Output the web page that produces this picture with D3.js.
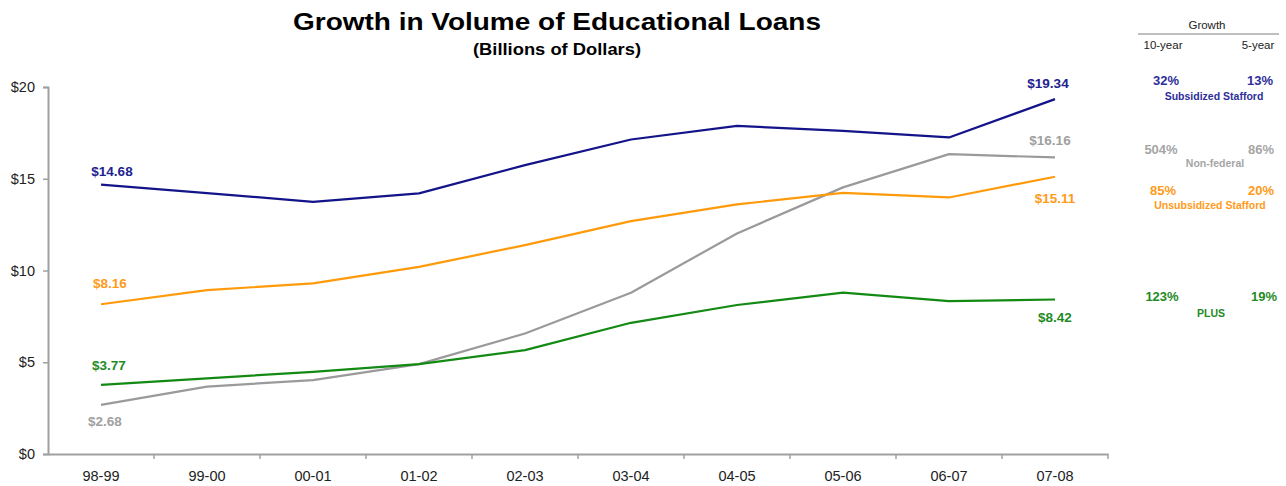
<!DOCTYPE html>
<html>
<head>
<meta charset="utf-8">
<script src="https://cdn.jsdelivr.net/npm/d3@7"></script>
<style>
  html, body { margin: 0; padding: 0; background: #fff; }
  svg { display: block; font-family: Arial, "Liberation Sans", sans-serif; }
</style>
</head>
<body>
<svg id="chart" width="1286" height="486"></svg>
<script>
// Academic years on the x axis
const years = ["98-99", "99-00", "00-01", "01-02", "02-03", "03-04", "04-05", "05-06", "06-07", "07-08"];

// Loan volume by program, billions of dollars
const subsidized   = [14.68, 14.22, 13.74, 14.20, 15.74, 17.14, 17.88, 17.61, 17.25, 19.34];
const nonFederal   = [2.68, 3.67, 4.03, 4.90, 6.57, 8.79, 12.02, 14.53, 16.34, 16.16];
const unsubsidized = [8.16, 8.93, 9.30, 10.20, 11.38, 12.69, 13.60, 14.23, 13.98, 15.11];
const plus         = [3.77, 4.12, 4.48, 4.90, 5.66, 7.15, 8.12, 8.79, 8.33, 8.42];

// Y axis ticks
const yTicks = [0, 5, 10, 15, 20];

// Growth table on the right
const seriesNames = ["Subsidized Stafford", "Non-federal", "Unsubsidized Stafford", "PLUS"];
const growth10 = ["32%", "504%", "85%", "123%"];
const growth5  = ["13%", "86%", "20%", "19%"];

const FONT = "Arial, 'Liberation Sans', sans-serif";
const svg = d3.select("#chart");

const x = d3.scaleBand().domain(years).range([48, 1108]);
const y = d3.scaleLinear().domain([0, 20]).range([454, 87]);
const cx = d => x(d) + x.bandwidth() / 2;

// Title and subtitle (set in a slightly wide face)
svg.append("text").attr("x", 557).attr("y", 30).attr("text-anchor", "middle")
  .attr("font-size", 24).attr("font-weight", "bold").attr("fill", "#000")
  .attr("textLength", 528).attr("lengthAdjust", "spacingAndGlyphs")
  .text("Growth in Volume of Educational Loans");
svg.append("text").attr("x", 557).attr("y", 55).attr("text-anchor", "middle")
  .attr("font-size", 16).attr("font-weight", "bold").attr("fill", "#000")
  .attr("textLength", 168).attr("lengthAdjust", "spacingAndGlyphs")
  .text("(Billions of Dollars)");

// Y axis
const yAxis = svg.append("g").attr("transform", "translate(48,0)")
  .call(d3.axisLeft(y).tickValues(yTicks).tickSize(5).tickPadding(8).tickFormat(d => "$" + d));
yAxis.select(".domain").attr("stroke", "#a0a0a0").attr("stroke-width", 2);
yAxis.selectAll(".tick line").attr("stroke", "#a0a0a0").attr("stroke-width", 1.5);
yAxis.selectAll(".tick text").attr("font-size", 14.5).attr("fill", "#222").attr("font-family", FONT);

// X axis with ticks at category boundaries
const xAxis = svg.append("g").attr("transform", "translate(0,454)")
  .call(d3.axisBottom(x).tickSize(0).tickPadding(17));
xAxis.select(".domain").attr("stroke", "#a0a0a0").attr("stroke-width", 2);
xAxis.selectAll(".tick text").attr("font-size", 14.5).attr("fill", "#222").attr("font-family", FONT);
xAxis.selectAll(".boundary").data(years).enter().append("line")
  .attr("x1", d => x(d) + x.bandwidth()).attr("x2", d => x(d) + x.bandwidth())
  .attr("y1", 0).attr("y2", 5).attr("stroke", "#a0a0a0").attr("stroke-width", 1.5);

// Lines
const series = [
  { values: nonFederal,   color: "#9a9a9a" },
  { values: plus,         color: "#138a13" },
  { values: unsubsidized, color: "#ff9a0a" },
  { values: subsidized,   color: "#14148a" }
];
const line = d3.line().x((d, i) => cx(years[i])).y(d => y(d));
series.forEach(s => {
  svg.append("path").datum(s.values).attr("d", line)
    .attr("fill", "none").attr("stroke", s.color).attr("stroke-width", 2.2)
    .attr("stroke-linejoin", "round");
});

// End-point value labels
const fmt = v => "$" + v.toFixed(2);
const first = 0, last = years.length - 1;
function valueLabel(vals, i, dx, dy, color) {
  svg.append("text").attr("x", cx(years[i]) + dx).attr("y", y(vals[i]) + dy)
    .attr("text-anchor", "middle").attr("font-size", 13.5).attr("font-weight", "bold")
    .attr("fill", color).text(fmt(vals[i]));
}
valueLabel(subsidized, first, 11, -9, "#22228f");
valueLabel(unsubsidized, first, 9, -16, "#ff9a1a");
valueLabel(plus, first, 8, -15, "#1f8a1f");
valueLabel(nonFederal, first, 4, 21, "#a0a0a0");
valueLabel(subsidized, last, -7, -11, "#22228f");
valueLabel(nonFederal, last, -5, -12, "#a0a0a0");
valueLabel(unsubsidized, last, 0, 26, "#ff9a1a");
valueLabel(plus, last, 0, 23, "#1f8a1f");

// Growth table
const tbl = svg.append("g");
tbl.append("text").attr("x", 1207).attr("y", 29).attr("text-anchor", "middle")
  .attr("font-size", 11.5).attr("fill", "#222").text("Growth");
tbl.append("line").attr("x1", 1138).attr("x2", 1279).attr("y1", 34).attr("y2", 34)
  .attr("stroke", "#aaa").attr("stroke-width", 1.5);
tbl.append("text").attr("x", 1163).attr("y", 49).attr("text-anchor", "middle")
  .attr("font-size", 11.5).attr("fill", "#222").text("10-year");
tbl.append("text").attr("x", 1258).attr("y", 49).attr("text-anchor", "middle")
  .attr("font-size", 11.5).attr("fill", "#222").text("5-year");

const rows = [
  { y: 85,  nameY: 100, color: "#2e2e9a", x10: 1166, x5: 1260, nameX: 1214 },
  { y: 154, nameY: 167, color: "#a5a5a5", x10: 1161, x5: 1261, nameX: 1215 },
  { y: 195, nameY: 209, color: "#ff9a1a", x10: 1163, x5: 1261, nameX: 1210 },
  { y: 301, nameY: 317, color: "#1f8a1f", x10: 1162, x5: 1264, nameX: 1211 }
];
rows.forEach((r, i) => {
  tbl.append("text").attr("x", r.x10).attr("y", r.y).attr("text-anchor", "middle")
    .attr("font-size", 13).attr("font-weight", "bold").attr("fill", r.color).text(growth10[i]);
  tbl.append("text").attr("x", r.x5).attr("y", r.y).attr("text-anchor", "middle")
    .attr("font-size", 13).attr("font-weight", "bold").attr("fill", r.color).text(growth5[i]);
  tbl.append("text").attr("x", r.nameX).attr("y", r.nameY).attr("text-anchor", "middle")
    .attr("font-size", 10.5).attr("font-weight", "bold").attr("fill", r.color).text(seriesNames[i]);
});
</script>
</body>
</html>
